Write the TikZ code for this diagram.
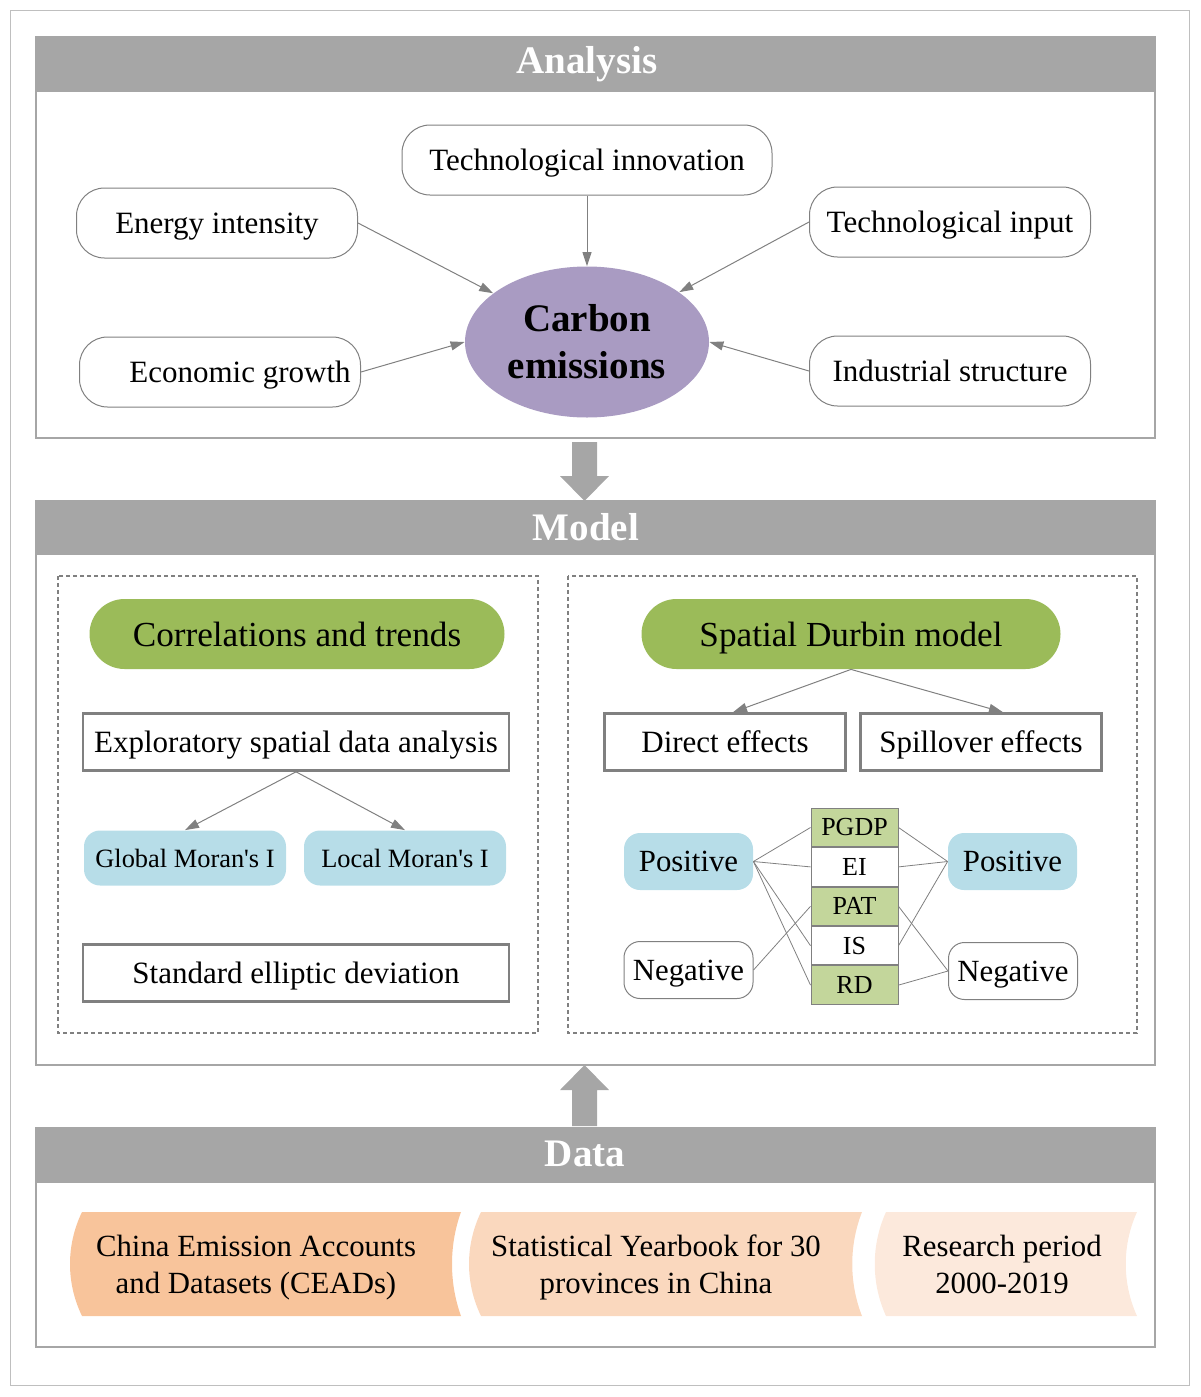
\documentclass[tikz,border=0pt]{standalone}
\usepackage{fontspec}
\setmainfont{Liberation Serif}
\usepackage{xcolor}
\usetikzlibrary{shapes.geometric,arrows.meta,positioning}

\definecolor{hdrgray}{RGB}{166,166,166}
\definecolor{linegray}{RGB}{128,128,128}
\definecolor{framegray}{RGB}{191,191,191}
\definecolor{carbonpurple}{RGB}{169,155,194}
\definecolor{leafgreen}{RGB}{155,187,89}
\definecolor{palegreen}{RGB}{195,214,155}
\definecolor{paleblue}{RGB}{183,221,232}
\definecolor{orangeA}{RGB}{248,196,155}
\definecolor{orangeB}{RGB}{250,216,190}
\definecolor{orangeC}{RGB}{252,233,220}

\tikzset{
  factor/.style={draw=linegray, line width=0.5pt, rounded corners=14pt, minimum width=140.5pt, minimum height=35pt, text depth=0pt, font=\fontsize{15.5}{18}\selectfont},
  pill/.style={fill=leafgreen, rounded corners=17.5pt, minimum height=35pt, text depth=0pt, font=\fontsize{17.6}{21}\selectfont},
  plainbox/.style={draw=linegray, line width=1.3pt, minimum height=28.5pt, text depth=0pt, font=\fontsize{15.5}{18}\selectfont},
  moran/.style={fill=paleblue, rounded corners=8pt, minimum width=101pt, minimum height=27.5pt, text depth=0pt, font=\fontsize{13.2}{16}\selectfont},
  sign/.style={rounded corners=8pt, minimum width=64.5pt, minimum height=28.5pt, text depth=0pt, font=\fontsize{15.4}{18}\selectfont},
  cell/.style={draw=linegray, line width=0.5pt, minimum width=43.5pt, minimum height=19.2pt, inner sep=0pt, font=\fontsize{13}{15}\selectfont},
  headtext/.style={text=white, font=\fontsize{19.5}{22}\selectfont\bfseries},
  link/.style={draw=linegray, line width=0.5pt, -{Triangle[length=7pt,width=4.5pt]}},
  tie/.style={draw=linegray, line width=0.4pt},
  panel/.style={draw=hdrgray, line width=0.6pt},
  dashbox/.style={draw=linegray, line width=1pt, dash pattern=on 2pt off 1.5pt},
  source/.style={align=center, text depth=0pt, font=\fontsize{15.4}{18.5}\selectfont},
}

\begin{document}
\begin{tikzpicture}[x=0.5pt,y=-0.5pt]
\useasboundingbox (0,0) rectangle (1200,1397);
\draw[framegray, line width=0.5pt] (10,10) rectangle (1189,1385);

% Analysis
\fill[hdrgray] (36,37) rectangle (1155,92);
\draw[panel] (36,37) rectangle (1155,438);
\node[headtext] (anahead) at (587,64) {Analysis};

\node[factor, minimum width=185pt] (innov) at (587,160) {Technological innovation};
\node[factor] (energy) at (217,223) {Energy intensity};
\node[factor] (input) at (950,222) {Technological input};
\node[factor] (growth) at (220,372) {\hspace*{20pt}Economic growth};
\node[factor] (struct) at (950,371) {Industrial structure};
\node[ellipse, fill=carbonpurple, minimum width=122pt, minimum height=75.5pt, inner sep=0pt,
      align=center, font=\fontsize{19.5}{23.5}\selectfont\bfseries] (carbon) at (587,342) {Carbon\\emissions};

\draw[link] (innov) -- (carbon);
\draw[link] (energy.east) -- (carbon);
\draw[link] (input.west) -- (carbon);
\draw[link] (growth.east) -- (carbon.west);
\draw[link] (struct.west) -- (carbon.east);

\fill[hdrgray] (572,442) -- (597,442) -- (597,476) -- (609,476) -- (584.5,501) -- (560,476) -- (572,476) -- cycle;

% Model
\fill[hdrgray] (36,501) rectangle (1155,555);
\draw[panel] (36,501) rectangle (1155,1065);
\node[headtext] (modhead) at (586,527) {Model};
\draw[dashbox] (58,576) rectangle (538,1033);
\draw[dashbox] (568,576) rectangle (1137,1033);

\node[pill, minimum width=207.5pt] (corr) at (297,634) {Correlations and trends};
\node[plainbox, minimum width=213pt] (esda) at (296,742) {Exploratory spatial data analysis};
\node[moran] (global) at (185,858) {Global Moran\textquotesingle s I};
\node[moran] (local) at (405,858) {Local Moran\textquotesingle s I};
\node[plainbox, minimum width=213pt] (sde) at (296,973) {Standard elliptic deviation};
\draw[link] (esda.south) -- (global.north);
\draw[link] (esda.south) -- (local.north);

\node[pill, minimum width=209.5pt] (sdm) at (851,634) {Spatial Durbin model};
\node[plainbox, minimum width=120.5pt] (direct) at (725,742) {Direct effects};
\node[plainbox, minimum width=120.5pt] (spill) at (981,742) {Spillover effects};
\draw[link] (sdm.south) -- ([xshift=4pt]direct.north);
\draw[link] (sdm.south) -- ([xshift=11pt]spill.north);

\node[cell, fill=palegreen] (pgdp) at (854.5,827.5) {PGDP};
\node[cell, fill=white, below=0pt of pgdp] (ei) {EI};
\node[cell, fill=palegreen, below=0pt of ei] (pat) {PAT};
\node[cell, fill=white, below=0pt of pat] (is) {IS};
\node[cell, fill=palegreen, below=0pt of is] (rd) {RD};

\node[sign, fill=paleblue] (dpos) at (688.5,861.5) {Positive};
\node[sign, draw=linegray, line width=0.5pt] (dneg) at (688.5,970) {Negative};
\node[sign, fill=paleblue] (spos) at (1012.5,861.5) {Positive};
\node[sign, draw=linegray, line width=0.5pt] (sneg) at (1013,971) {Negative};

\foreach \v in {pgdp,ei,is,rd}
    \draw[tie] (dpos.east) -- (\v.west);
\draw[tie] (dneg.east) -- (pat.west);
\foreach \v in {pgdp,ei,is}
    \draw[tie] (\v.east) -- (spos.west);
\foreach \v in {pat,rd}
    \draw[tie] (\v.east) -- (sneg.west);

\fill[hdrgray] (584.5,1065) -- (609,1090) -- (597,1090) -- (597,1126) -- (572,1126) -- (572,1090) -- (560,1090) -- cycle;

% Data
\fill[hdrgray] (36,1128) rectangle (1155,1183);
\draw[panel] (36,1128) rectangle (1155,1347);
\node[headtext] (datahead) at (585,1154) {Data};

\fill[orangeA] (82,1212) -- (461,1212) .. controls (449,1245) and (449,1283) .. (461,1316)
    -- (82,1316) .. controls (66,1283) and (66,1245) .. (82,1212) -- cycle;
\fill[orangeB] (481,1212) -- (862,1212) .. controls (849,1245) and (849,1283) .. (862,1316)
    -- (481,1316) .. controls (465,1283) and (465,1245) .. (481,1212) -- cycle;
\fill[orangeC] (886,1212) -- (1137,1212) .. controls (1122,1245) and (1122,1283) .. (1137,1316)
    -- (886,1316) .. controls (871,1283) and (871,1245) .. (886,1212) -- cycle;
\node[source] (ceads) at (256,1264) {China Emission Accounts\\and Datasets (CEADs)};
\node[source] (yearbook) at (656,1264) {Statistical Yearbook for 30\\provinces in China};
\node[source] (period) at (1002,1264) {Research period\\2000-2019};
\end{tikzpicture}
\end{document}
